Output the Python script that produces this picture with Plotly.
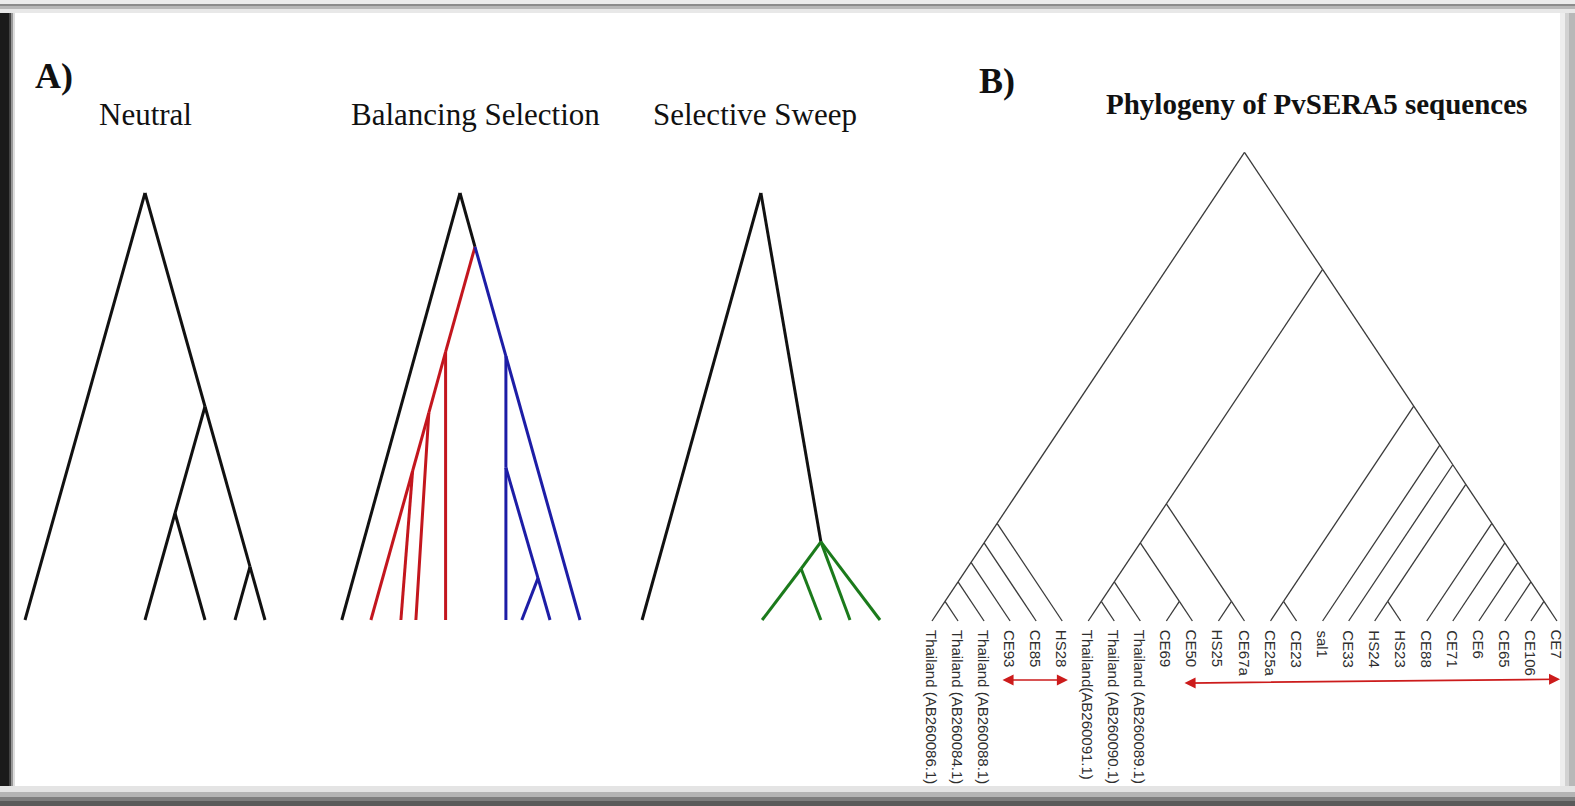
import plotly.graph_objects as go

W, H = 1575, 806

# ---------------- Panel A: schematic genealogies ----------------
# x = lineage position, t = time (root = 1, present-day tips = 0)
NEUTRAL_NODES = ["root", "n1", "n2", "n3", "a", "b", "c", "d", "e"]
NEUTRAL_X = [4.0, 6.0, 5.0, 7.5, 0.0, 4.0, 6.0, 7.0, 8.0]
NEUTRAL_T = [1.0, 0.5, 0.25, 0.125, 0, 0, 0, 0, 0]
NEUTRAL_PARENT = [None, "root", "n1", "n1", "root", "n2", "n2", "n3", "n3"]
NEUTRAL_GROUP = ["base"] * 9

BAL_NODES = ["root", "split", "r1", "r2", "r3", "b1", "b2", "b3", "out",
             "ra", "rb", "rc", "rd", "ba", "bb", "bc", "bd"]
BAL_X = [14.5, 15.0, 14.02, 13.46, 12.92, 16.03, 16.03, 17.1, 10.56,
         11.53, 12.53, 13.03, 14.02, 16.03, 16.56, 17.5, 18.5]
BAL_T = [1.0, 0.874, 0.628, 0.485, 0.349, 0.618, 0.357, 0.098, 0,
         0, 0, 0, 0, 0, 0, 0, 0]
BAL_PARENT = [None, "root", "split", "r1", "r2", "split", "b1", "b2", "root",
              "r3", "r3", "r2", "r1", "b2", "b3", "b3", "b1"]
BAL_GROUP = ["base", "base", "allele1", "allele1", "allele1", "allele2", "allele2", "allele2", "base",
             "allele1", "allele1", "allele1", "allele1", "allele2", "allele2", "allele2", "allele2"]

SWEEP_NODES = ["root", "g", "h", "out", "s1", "s2", "s3", "s4"]
SWEEP_X = [24.53, 26.53, 25.87, 20.57, 24.57, 26.53, 27.5, 28.5]
SWEEP_T = [1.0, 0.183, 0.12, 0, 0, 0, 0, 0]
SWEEP_PARENT = [None, "root", "g", "root", "h", "h", "g", "g"]
SWEEP_GROUP = ["base", "base", "sweep", "base", "sweep", "sweep", "sweep", "sweep"]

PANEL_A_TITLES = ["Neutral", "Balancing Selection", "Selective Sweep"]

# ---------------- Panel B: PvSERA5 phylogeny ----------------
TIP_LABELS = [
    "Thailand (AB260086.1)", "Thailand (AB260084.1)", "Thailand (AB260088.1)",
    "CE93", "CE85", "HS28",
    "Thailand(AB260091.1)", "Thailand (AB260090.1)", "Thailand (AB260089.1)",
    "CE69", "CE50", "HS25", "CE67a", "CE25a", "CE23", "sal1", "CE33",
    "HS24", "HS23", "CE88", "CE71", "CE6", "CE65", "CE106", "CE7",
]
CLADE_LEFT = [[[[[0, 1], 2], 3], 4], 5]
CLADE_MIDDLE = [[[[6, 7], 8], [9, 10]], [11, 12]]
CLADE_RIGHT = [[13, 14], [15, [16, [[17, 18], [19, [20, [21, [22, [23, 24]]]]]]]]]
TREE_B = [CLADE_LEFT, [CLADE_MIDDLE, CLADE_RIGHT]]

# red range arrows under the tip labels (tip-index units, depth units)
ARROW_X = [(2.65, 5.22), (9.64, 24.12)]
ARROW_Y = [(-1.51, -1.51), (-1.59, -1.49)]

# ---------------- styling ----------------
COLORS = {"base": "#111111", "allele1": "#c3161e", "allele2": "#1d1da6", "sweep": "#1b7a1b"}
SERIF = "Liberation Serif, Times New Roman, serif"
SANS = "Liberation Sans, Arial, sans-serif"

# pixel calibration of the two drawing areas
A_X0_PX, A_UNIT_PX = 25.0, 30.0          # pixel of x = 0, pixels per lineage unit
A_TIP_PX, A_ROOT_PX = 620.0, 193.0       # pixel rows of t = 0 and t = 1
B_X0_PX, B_STEP_PX = 932.0, 26.04        # pixel of first tip, spacing between tips
B_TIP_PX, B_SLOPE = 621.0, 1.5           # tip row, vertical/horizontal branch slope


def px_x(p):
    return p / W


def px_y(p):
    return 1 - p / H


fig = go.Figure()


def add_schematic(names, xs, ts, parents, groups):
    idx = {n: i for i, n in enumerate(names)}
    segs = {}
    for i, par in enumerate(parents):
        if par is None:
            continue
        j = idx[par]
        sx, sy = segs.setdefault(groups[i], ([], []))
        sx += [xs[j], xs[i], None]
        sy += [ts[j], ts[i], None]
    # draw black backbone first, coloured lineages on top
    for g in sorted(segs, key=lambda k: k != "base"):
        sx, sy = segs[g]
        fig.add_trace(go.Scatter(x=sx, y=sy, mode="lines", xaxis="x", yaxis="y",
                                 line=dict(color=COLORS[g], width=3),
                                 hoverinfo="skip", showlegend=False))


add_schematic(NEUTRAL_NODES, NEUTRAL_X, NEUTRAL_T, NEUTRAL_PARENT, NEUTRAL_GROUP)
add_schematic(BAL_NODES, BAL_X, BAL_T, BAL_PARENT, BAL_GROUP)
add_schematic(SWEEP_NODES, SWEEP_X, SWEEP_T, SWEEP_PARENT, SWEEP_GROUP)


# slanted cladogram: a node sits midway between its extreme tips,
# its depth is half the tip span
def layout_clado(node, segx, segy):
    if isinstance(node, int):
        return node, 0.0, node, node
    kids = [layout_clado(c, segx, segy) for c in node]
    lo = min(k[2] for k in kids)
    hi = max(k[3] for k in kids)
    x, d = (lo + hi) / 2, (hi - lo) / 2
    for kx, kd, _, _ in kids:
        segx += [x, kx, None]
        segy += [d, kd, None]
    return x, d, lo, hi


bx, by = [], []
layout_clado(TREE_B, bx, by)
fig.add_trace(go.Scatter(x=bx, y=by, mode="lines", xaxis="x2", yaxis="y2",
                         line=dict(color="#3a3a3a", width=1.3),
                         hoverinfo="skip", showlegend=False))

annotations = []
for i, lab in enumerate(TIP_LABELS):
    annotations.append(dict(x=i, y=0, xref="x2", yref="y2", text=lab, textangle=90,
                            showarrow=False, xanchor="center", yanchor="top", yshift=-7,
                            font=dict(family=SANS, size=15, color="#2e2e2e")))

for (x0, x1), (y0, y1) in zip(ARROW_X, ARROW_Y):
    annotations.append(dict(x=x1, y=y1, ax=x0, ay=y0, xref="x2", yref="y2",
                            axref="x2", ayref="y2", text="", showarrow=True,
                            arrowhead=2, arrowside="end+start", arrowsize=1.3,
                            arrowwidth=1.7, arrowcolor="#cc1b1b", standoff=0, startstandoff=0))


def paper_text(text, cx, cy, size):
    return dict(x=px_x(cx), y=px_y(cy), xref="paper", yref="paper", text=text,
                showarrow=False, xanchor="center", yanchor="middle",
                font=dict(family=SERIF, size=size, color="#111"))


# panel letters and titles
annotations += [
    paper_text("<b>A)</b>", 54, 76, 36),
    paper_text("<b>B)</b>", 997, 81, 36),
    paper_text("<b>Phylogeny of PvSERA5 sequences</b>", 1316, 104, 29),
]
for title, cx in zip(PANEL_A_TITLES, [145, 475, 755]):
    annotations.append(paper_text(title, cx, 114, 31))

# framing edges of the figure
EDGE_BANDS = [
    ("x", 0, 9, "#1a1a1a"), ("x", 9, 11, "#444444"), ("x", 11, 13, "#999999"), ("x", 13, 15, "#dddddd"),
    ("x", 1560, 1565, "#eeeeee"), ("x", 1565, 1569, "#d2d2d2"), ("x", 1569, 1575, "#b8b8b8"),
    ("y", 0, 4, "#ececec"), ("y", 4, 6, "#8c8c8c"), ("y", 6, 9, "#b8b8b8"), ("y", 9, 13, "#e8e8e8"),
    ("y", 786, 792, "#e4e4e4"), ("y", 792, 797, "#b4b4b4"), ("y", 797, 801, "#7e7e7e"), ("y", 801, 806, "#5a5a5a"),
]
shapes = []
for axis, p0, p1, col in EDGE_BANDS:
    if axis == "x":
        shapes.append(dict(type="rect", xref="paper", yref="paper", x0=px_x(p0), x1=px_x(p1),
                           y0=0, y1=1, fillcolor=col, line=dict(width=0), layer="below"))
    else:
        shapes.append(dict(type="rect", xref="paper", yref="paper", x0=0, x1=1,
                           y0=px_y(p1), y1=px_y(p0), fillcolor=col, line=dict(width=0), layer="below"))

# axis domains (pixels) and the matching data ranges
A_DOM_X, A_DOM_Y = (0, 900), (140, 660)
B_DOM_X, B_DOM_Y = (895, 1575), (120, 800)
a_tpx = A_TIP_PX - A_ROOT_PX
b_dpx = B_STEP_PX * B_SLOPE

fig.update_layout(
    width=W, height=H, margin=dict(l=0, r=0, t=0, b=0),
    paper_bgcolor="white", plot_bgcolor="rgba(0,0,0,0)", showlegend=False,
    xaxis=dict(domain=[px_x(A_DOM_X[0]), px_x(A_DOM_X[1])], anchor="y", visible=False, fixedrange=True,
               range=[(A_DOM_X[0] - A_X0_PX) / A_UNIT_PX, (A_DOM_X[1] - A_X0_PX) / A_UNIT_PX]),
    yaxis=dict(domain=[px_y(A_DOM_Y[1]), px_y(A_DOM_Y[0])], anchor="x", visible=False, fixedrange=True,
               range=[(A_TIP_PX - A_DOM_Y[1]) / a_tpx, (A_TIP_PX - A_DOM_Y[0]) / a_tpx]),
    xaxis2=dict(domain=[px_x(B_DOM_X[0]), px_x(B_DOM_X[1])], anchor="y2", visible=False, fixedrange=True,
                range=[(B_DOM_X[0] - B_X0_PX) / B_STEP_PX, (B_DOM_X[1] - B_X0_PX) / B_STEP_PX]),
    yaxis2=dict(domain=[px_y(B_DOM_Y[1]), px_y(B_DOM_Y[0])], anchor="x2", visible=False, fixedrange=True,
                range=[(B_TIP_PX - B_DOM_Y[1]) / b_dpx, (B_TIP_PX - B_DOM_Y[0]) / b_dpx]),
    annotations=annotations,
    shapes=shapes,
)

fig.write_html("out.html")
